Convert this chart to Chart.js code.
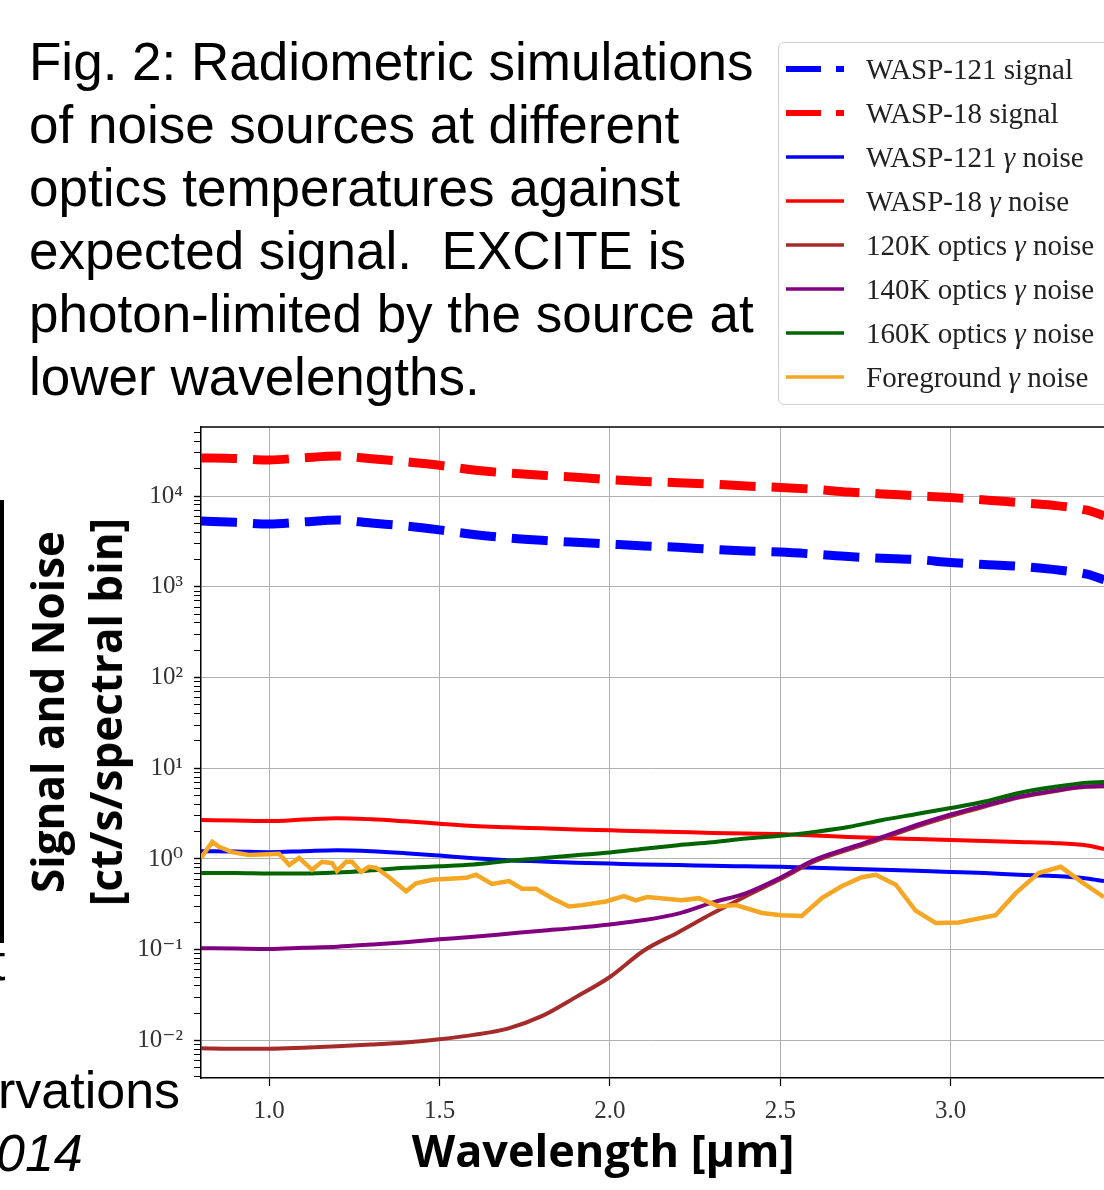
<!DOCTYPE html>
<html>
<head>
<meta charset="utf-8">
<title>Fig. 2 - Radiometric simulations</title>
<script src="https://cdn.jsdelivr.net/npm/chart.js@4.4.1/dist/chart.umd.min.js"></script>
<style>
  html, body { margin: 0; padding: 0; background: #fff; overflow: hidden; }
  body { width: 1104px; height: 1190px; position: relative; font-family: "Liberation Sans", Arial, sans-serif; color: #000; }
  #chart { position: absolute; left: 0; top: 0; }

  .caption { position: absolute; left: 29px; top: 30px; font-size: 53px; line-height: 63px; white-space: nowrap; }
  .fragment { position: absolute; font-size: 52px; line-height: 52px; white-space: nowrap; }
  .bar { position: absolute; left: 0; top: 500px; width: 4px; height: 443px; background: #000; }

  .axis-title { position: absolute; font-family: "Open Sans", "Lato", sans-serif; font-weight: 700; font-size: 44px; white-space: nowrap; }
  #y-title { left: 76px; top: 712px; line-height: 58px; text-align: center; transform: translate(-50%, -50%) rotate(-90deg); }
  #x-title { left: 603px; top: 1127px; line-height: 45px; font-size: 45px; transform: translateX(-50%); }

  /* legend box sits above the plot, cut by the right edge */
  #legend { position: absolute; left: 778px; top: 42px; width: 360px; height: 357px; padding-top: 4px;
            border: 1px solid #cfcfcf; border-radius: 6px; background: #fff; }
  .legend-row { height: 44px; display: flex; align-items: center; }
  .legend-row canvas { margin-left: 7px; margin-right: 18px; }
  .legend-row span { font-family: "Liberation Serif", "DejaVu Serif", serif; font-size: 29px; color: #222; white-space: nowrap; }
</style>
</head>
<body>
<canvas id="chart" width="1110" height="1190"></canvas>

<div class="caption">Fig. 2: Radiometric simulations<br>of noise sources at different<br>optics temperatures against<br>expected signal.&nbsp; EXCITE is<br>photon-limited by the source at<br>lower wavelengths.</div>

<div class="bar"></div>
<div class="fragment" style="left:-9px; top:936px;">t</div>
<div class="fragment" style="left:-2px; top:1064px;">rvations</div>
<div class="fragment" style="left:-4px; top:1127px; font-style:italic;">014</div>

<div class="axis-title" id="y-title">Signal and Noise<br>[ct/s/spectral bin]</div>
<div class="axis-title" id="x-title">Wavelength [µm]</div>

<div id="legend"></div>

<script>
// wavelength grid for the smooth curves (µm)
const wavelength = [0.80, 0.90, 1.00, 1.10, 1.20, 1.30, 1.40, 1.50, 1.60, 1.70, 1.80, 1.90, 2.00, 2.10,
                    2.20, 2.30, 2.40, 2.50, 2.60, 2.70, 2.80, 2.90, 3.00, 3.10, 3.20, 3.30, 3.40, 3.45]

const wasp121Signal = [5330, 5150, 4930, 5200, 5470, 5050, 4700, 4250, 3780, 3470, 3260, 3100, 2960, 2830,
                       2730, 2600, 2490, 2420, 2300, 2160, 2070, 2000, 1860, 1760, 1690, 1560, 1380, 1200]
const wasp18Signal = [26400, 26000, 25100, 26500, 27700, 25900, 24000, 21900, 19400, 18000, 17000, 16200, 15200, 14500,
                      14100, 13600, 12950, 12500, 11900, 11100, 10600, 10100, 9650, 9100, 8500, 7950, 7000, 6100]
const wasp121Noise = [1.22, 1.21, 1.19, 1.22, 1.25, 1.22, 1.16, 1.09, 1.02, 0.97, 0.94, 0.91, 0.89, 0.87,
                      0.86, 0.84, 0.83, 0.82, 0.80, 0.78, 0.76, 0.74, 0.72, 0.70, 0.67, 0.65, 0.61, 0.57]
const wasp18Noise = [2.69, 2.66, 2.62, 2.72, 2.82, 2.74, 2.60, 2.45, 2.31, 2.24, 2.18, 2.12, 2.07, 2.02,
                     1.98, 1.94, 1.91, 1.89, 1.82, 1.75, 1.70, 1.66, 1.62, 1.58, 1.54, 1.50, 1.41, 1.29]
const optics120Noise = [0.0082, 0.0081, 0.0081, 0.0083, 0.0086, 0.0090, 0.0095, 0.0103, 0.0115, 0.0135, 0.0185, 0.030, 0.050, 0.098,
                        0.155, 0.25, 0.39, 0.60, 0.94, 1.27, 1.68, 2.28, 2.98, 3.78, 4.75, 5.55, 6.25, 6.30]
const optics140Noise = [0.104, 0.103, 0.102, 0.105, 0.108, 0.114, 0.121, 0.130, 0.139, 0.150, 0.162, 0.174, 0.190, 0.212,
                        0.250, 0.33, 0.42, 0.62, 0.98, 1.32, 1.75, 2.37, 3.10, 3.90, 4.85, 5.65, 6.35, 6.40]
const optics160Noise = [0.70, 0.70, 0.69, 0.69, 0.71, 0.75, 0.80, 0.83, 0.87, 0.95, 1.02, 1.10, 1.18, 1.30,
                        1.42, 1.53, 1.68, 1.80, 1.99, 2.25, 2.69, 3.13, 3.65, 4.30, 5.35, 6.20, 6.95, 7.05]

// the foreground curve is jagged, so it has its own sampling
const foregroundWavelength = [0.800, 0.833, 0.853, 0.891, 0.941, 1.029, 1.059, 1.088, 1.126, 1.155, 1.185, 1.199, 1.226, 1.243,
                              1.270, 1.293, 1.314, 1.352, 1.402, 1.431, 1.478, 1.578, 1.607, 1.654, 1.704, 1.742, 1.783, 1.830,
                              1.880, 1.918, 1.988, 2.041, 2.076, 2.109, 2.211, 2.261, 2.320, 2.370, 2.446, 2.504, 2.563, 2.622,
                              2.680, 2.739, 2.780, 2.839, 2.897, 2.956, 3.023, 3.132, 3.191, 3.258, 3.323, 3.384, 3.450]
const foregroundNoise = [1.03, 1.54, 1.36, 1.19, 1.11, 1.14, 0.86, 1.03, 0.76, 0.93, 0.90, 0.74, 0.93, 0.93,
                         0.72, 0.82, 0.80, 0.63, 0.44, 0.54, 0.59, 0.62, 0.67, 0.53, 0.57, 0.47, 0.47, 0.37,
                         0.30, 0.31, 0.34, 0.39, 0.35, 0.38, 0.35, 0.37, 0.30, 0.31, 0.254, 0.24, 0.235, 0.37,
                         0.50, 0.63, 0.67, 0.52, 0.27, 0.197, 0.20, 0.24, 0.42, 0.70, 0.82, 0.56, 0.38]

const seriesLabels = ['WASP-121 signal', 'WASP-18 signal', 'WASP-121 γ noise', 'WASP-18 γ noise',
                      '120K optics γ noise', '140K optics γ noise', '160K optics γ noise', 'Foreground γ noise']
const seriesColors = ['#0000ff', '#ff0000', '#0000ff', '#ff0000', '#a52a2a', '#800080', '#006400', '#f5a623']

const xTicks = [1.0, 1.5, 2.0, 2.5, 3.0]
const xTickLabels = ['1.0', '1.5', '2.0', '2.5', '3.0']
const yMajorTicks = [1e-2, 1e-1, 1, 1e1, 1e2, 1e3, 1e4]
const yTickLabels = ['10⁻²', '10⁻¹', '10⁰', '10¹', '10²', '10³', '10⁴']

const tickFont = '"Liberation Serif", "DejaVu Serif", serif'

const seriesValues = [wasp121Signal, wasp18Signal, wasp121Noise, wasp18Noise,
                      optics120Noise, optics140Noise, optics160Noise, foregroundNoise]

const datasets = seriesValues.map((values, i) => {
  const dashed = i < 2
  const xs = i === 7 ? foregroundWavelength : wavelength
  return {
    label: seriesLabels[i],
    data: xs.map((x, j) => ({ x: x, y: values[j] })),
    borderColor: seriesColors[i],
    borderWidth: dashed ? 9 : (i === 7 ? 4.5 : 4),
    borderDash: dashed ? [36, 16] : [],
    cubicInterpolationMode: i === 7 ? 'default' : 'monotone',
    tension: 0,
    pointRadius: 0,
    // first series at the back, foreground on top (same as matplotlib)
    order: seriesValues.length - i
  }
})

// decade ticks carry a label and a grid line, the 2..9 ones are only tick marks
function buildLogTicks(scale) {
  const ticks = []
  yMajorTicks.concat([1e-3]).forEach(decade => {
    for (let m = 1; m <= 9; m++) {
      const v = m * decade
      if (v < scale.min || v > scale.max) continue
      const k = m === 1 ? yMajorTicks.indexOf(decade) : -1
      ticks.push({ value: v, major: k >= 0, lbl: k >= 0 ? yTickLabels[k] : '' })
    }
  })
  ticks.sort((a, b) => a.value - b.value)
  scale.ticks = ticks
}

// matplotlib draws the top spine too
const topSpine = {
  id: 'topSpine',
  afterDraw(chart) {
    const { ctx, chartArea } = chart
    ctx.save()
    ctx.strokeStyle = '#000'
    ctx.lineWidth = 1.5
    ctx.beginPath()
    ctx.moveTo(chartArea.left, chartArea.top)
    ctx.lineTo(chartArea.right, chartArea.top)
    ctx.stroke()
    ctx.restore()
  }
}

const chart = new Chart(document.getElementById('chart'), {
  type: 'line',
  data: { datasets: datasets },
  options: {
    responsive: false,
    animation: false,
    events: [],
    layout: { padding: { top: 427, right: 6, bottom: 0, left: 0 } },
    plugins: {
      legend: { display: false },
      tooltip: { enabled: false }
    },
    scales: {
      x: {
        type: 'linear',
        min: 0.80,
        max: 3.45,
        bounds: 'data',
        afterBuildTicks: scale => { scale.ticks = xTicks.map(v => ({ value: v })) },
        afterFit: scale => { scale.height = 112 },
        grid: { color: '#b0b0b0', lineWidth: 1, tickColor: '#000', tickLength: 8, tickWidth: 1.2 },
        border: { color: '#000', width: 1.5 },
        ticks: {
          callback: (value, index) => xTickLabels[index],
          font: { family: tickFont, size: 25 },
          color: '#333',
          padding: 10,
          maxRotation: 0,
          autoSkip: false
        }
      },
      y: {
        type: 'logarithmic',
        min: 0.00385,
        max: 57900,
        bounds: 'data',
        afterBuildTicks: buildLogTicks,
        afterFit: scale => { scale.width = 201 },
        grid: {
          color: ctx => (ctx.tick && ctx.tick.major ? '#b0b0b0' : 'rgba(0,0,0,0)'),
          lineWidth: 1,
          tickColor: '#000',
          tickLength: 7,
          tickWidth: ctx => (ctx.tick && ctx.tick.major ? 1.4 : 1)
        },
        border: { color: '#000', width: 1.5 },
        ticks: {
          callback: (value, index, ticks) => ticks[index].lbl || '',
          font: { family: tickFont, size: 25 },
          color: '#333',
          padding: 11,
          autoSkip: false
        }
      }
    }
  },
  plugins: [topSpine]
})

// legend built from the chart's own datasets
function buildLegend(chart) {
  const box = document.getElementById('legend')
  chart.data.datasets.forEach(ds => {
    const row = document.createElement('div')
    row.className = 'legend-row'

    const sample = document.createElement('canvas')
    sample.width = 62
    sample.height = 44
    const c = sample.getContext('2d')
    const dashed = ds.borderDash.length > 0
    c.strokeStyle = ds.borderColor
    c.lineWidth = dashed ? 6 : 3.5
    c.setLineDash(dashed ? [35, 15] : [])
    c.beginPath()
    c.moveTo(0, 22)
    c.lineTo(58, 22)
    c.stroke()

    const label = document.createElement('span')
    label.innerHTML = ds.label.replace('γ', '<i>γ</i>')

    row.appendChild(sample)
    row.appendChild(label)
    box.appendChild(row)
  })
}

buildLegend(chart)
</script>
</body>
</html>
